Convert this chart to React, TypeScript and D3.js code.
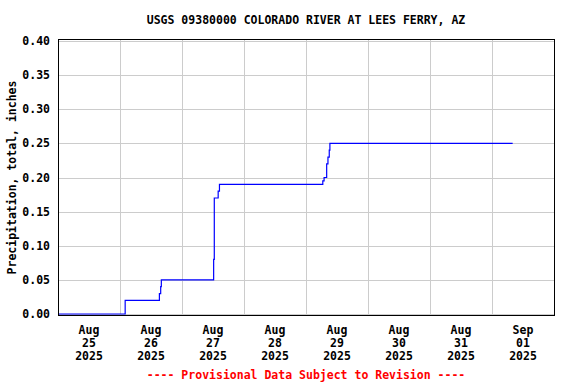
import React from "react";
import * as d3 from "d3";

const title = "USGS 09380000 COLORADO RIVER AT LEES FERRY, AZ";
const yLabel = "Precipitation, total, inches";
const footer = "---- Provisional Data Subject to Revision ----";

const times = [
  "2025-08-25T00:00", "2025-08-26T02:00", "2025-08-26T15:15", "2025-08-26T15:45",
  "2025-08-26T16:00", "2025-08-27T12:15", "2025-08-27T12:30", "2025-08-27T14:00",
  "2025-08-27T14:30", "2025-08-29T06:30", "2025-08-29T07:00", "2025-08-29T08:00",
  "2025-08-29T08:30", "2025-08-29T09:00", "2025-08-29T09:15", "2025-09-01T08:00",
];
const values = [
  0.00, 0.02, 0.03, 0.04,
  0.05, 0.08, 0.17, 0.18,
  0.19, 0.195, 0.20, 0.22,
  0.23, 0.24, 0.25, 0.25,
];
const yTicks = [0, 0.05, 0.1, 0.15, 0.2, 0.25, 0.3, 0.35, 0.4];
const dayTicks = ["2025-08-25", "2025-08-26", "2025-08-27", "2025-08-28", "2025-08-29", "2025-08-30", "2025-08-31", "2025-09-01"];

const parse = d3.timeParse("%Y-%m-%dT%H:%M");
const parseDay = d3.timeParse("%Y-%m-%d");

export default function App() {
  const W = 576, H = 384;
  const left = 58, right = 554, top = 41, bottom = 314;
  const x = d3.scaleTime()
    .domain([parseDay("2025-08-25") as Date, parseDay("2025-09-02") as Date])
    .range([left, right]);
  const y = d3.scaleLinear().domain([0, 0.4]).range([bottom, top]);
  const data = times.map((t, i) => ({ t: parse(t) as Date, v: values[i] }));
  const line = d3.line<{ t: Date; v: number }>()
    .x(d => x(d.t)).y(d => y(d.v)).curve(d3.curveStepAfter);
  const days = dayTicks.map(d => parseDay(d) as Date);
  const font = "'DejaVu Sans Mono', monospace";
  const fmtM = d3.timeFormat("%b"), fmtD = d3.timeFormat("%d"), fmtY = d3.timeFormat("%Y");
  return (
    <svg width={W} height={H} style={{ position: "absolute", left: 0, top: 0 }}
      fontFamily={font} fontWeight="bold" fontSize={11.5}>
      <rect x={0} y={0} width={W} height={H} fill="white" />
      {yTicks.map(t => (
        <line key={"gy" + t} x1={left} x2={right} y1={Math.round(y(t)) + 0.5} y2={Math.round(y(t)) + 0.5} stroke="#cccccc" />
      ))}
      {days.slice(1).map((d, i) => (
        <line key={"gx" + i} x1={Math.round(x(d)) + 0.5} x2={Math.round(x(d)) + 0.5} y1={top - 2} y2={bottom + 2} stroke="#cccccc" />
      ))}
      <path d={line(data) || ""} fill="none" stroke="#0000ff" strokeWidth={1.2} />
      <rect x={left + 0.5} y={top - 1.5} width={right - left} height={bottom - top + 3} fill="none" stroke="black" />
      {yTicks.map(t => (
        <text key={"ty" + t} x={50} y={y(t)} dy="0.35em" textAnchor="end">{t.toFixed(2)}</text>
      ))}
      {days.map((d, i) => {
        const cx = x(d3.timeHour.offset(d, 12));
        return (
          <text key={"tx" + i} x={cx} textAnchor="middle">
            <tspan x={cx} y={334}>{fmtM(d)}</tspan>
            <tspan x={cx} y={347}>{fmtD(d)}</tspan>
            <tspan x={cx} y={360}>{fmtY(d)}</tspan>
          </text>
        );
      })}
      <text x={306} y={24} textAnchor="middle">{title}</text>
      <text transform={`translate(16,${(top + bottom) / 2}) rotate(-90)`} textAnchor="middle">{yLabel}</text>
      <text x={306} y={379} textAnchor="middle" fill="red">{footer}</text>
    </svg>
  );
}
